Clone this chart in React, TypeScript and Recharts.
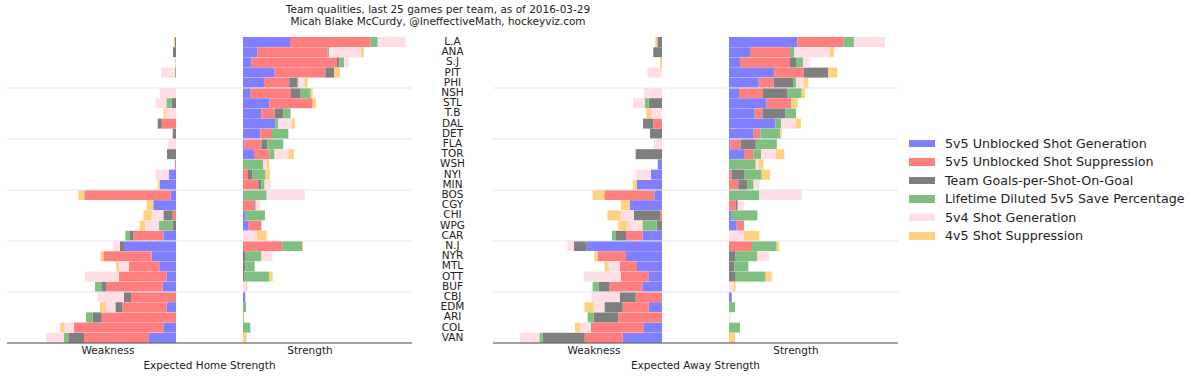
import React from 'react';
import { BarChart, Bar, XAxis, YAxis, ReferenceLine, Legend, Label } from 'recharts';

const FONT = '"DejaVu Sans", sans-serif';

const teams = ['L.A', 'ANA', 'S.J', 'PIT', 'PHI', 'NSH', 'STL', 'T.B', 'DAL', 'DET', 'FLA', 'TOR', 'WSH', 'NYI', 'MIN', 'BOS', 'CGY', 'CHI', 'WPG', 'CAR', 'N.J', 'NYR', 'MTL', 'OTT', 'BUF', 'CBJ', 'EDM', 'ARI', 'COL', 'VAN'];

const legendLabels = [
  '5v5 Unblocked Shot Generation',
  '5v5 Unblocked Shot Suppression',
  'Team Goals-per-Shot-On-Goal',
  'Lifetime Diluted 5v5 Save Percentage',
  '5v4 Shot Generation',
  '4v5 Shot Suppression',
];
const componentKeys = ['gen', 'sup', 'gps', 'sv', 'pp', 'pk'];
const colors = ['#7f7fff', '#ff7f7f', '#7f7f7f', '#7fbf7f', '#ffdfe5', '#ffd27f'];

const gridTeams = ['NSH', 'FLA', 'BOS', 'N.J', 'CBJ'];
const tickValues = [-135, 67];
const tickLabels = ['Weakness', 'Strength'];

// Expected Home Strength — strength side
const homeStrGen = [47, 14.3, 8.7, 31.7, 21, 7.7, 26.3, 18.3, 32.3, 17.3, 1.5, 11, 0, 0, 0, 0, 0, 2.7, 5.7, 0, 0, 0, 0, 0, 0, 2.3, 0, 0, 0, 0];
const homeStrSup = [80.7, 70.3, 85.3, 50.7, 25.3, 40.3, 43.3, 13.3, 0, 11.7, 17, 15.3, 0, 5, 15.3, 0, 11.3, 0, 12.7, 0, 39.3, 0, 0, 0, 0, 0, 0, 0, 0, 0];
const homeStrGps = [0, 0, 2.3, 9, 8, 9.7, 0, 8.7, 0, 0, 5.7, 0, 0, 4.3, 3, 0, 1.3, 0, 0, 0, 0, 2.7, 2.3, 1.7, 0, 0, 0, 0, 0, 0];
const homeStrSv = [7, 1.7, 4.7, 0, 1.3, 10, 0, 7.3, 3, 16.3, 16, 5.3, 20.3, 13.3, 3.3, 23.7, 0, 19.3, 0, 0, 19.7, 15.7, 9.3, 24.3, 0, 0, 3, 0.8, 7.3, 0];
const homeStrPp = [28, 31.7, 4.7, 0, 5.7, 0, 0, 0, 13.3, 0, 0, 14, 3.3, 0, 6, 38.3, 4.3, 0, 0, 13.7, 0, 11, 0, 0, 3, 0, 0, 0, 0, 0];
const homeStrPk = [0, 3, 0, 5.7, 3.3, 2, 3.3, 0, 3.3, 0, 0, 5.3, 2.7, 4.3, 0, 0, 0, 0, 0, 10, 1, 0, 0, 3.7, 1.3, 0, 0, 0, 0, 3.7];

// Expected Home Strength — weakness side
const homeWeakGen = [0, 0, 0, 0, 0, 0, 0, 0, 0, 0, 0, 0, 0, 7, 16, 5.3, 22.7, 0, 0, 12.7, 52, 24.3, 16.7, 9.3, 13.3, 0, 9.3, 0, 12.7, 27];
const homeWeakSup = [0, 0, 0, 0, 0, 0, 0, 0, 14.3, 0, 0, 0, 1, 0, 0, 85.3, 0, 3.3, 0, 30, 0, 48.3, 30.3, 47.7, 56.7, 45, 44.3, 74.3, 89.3, 65];
const homeWeakGps = [1.3, 3, 0, 0, 0, 0, 4.3, 0, 4, 3.3, 0, 9, 0, 0, 0, 1, 0, 9.3, 3.3, 3.3, 4, 0, 0, 0, 4, 7, 7, 9, 0, 15.7];
const homeWeakSv = [0, 0, 0, 1.3, 0, 0, 5.3, 0, 0, 0, 0, 0, 0, 0, 0, 0, 0, 0, 13.7, 4.7, 0, 0, 0, 0, 7, 0, 0, 6.7, 0, 4.3];
const homeWeakPp = [0, 0, 0, 13.7, 0, 16.3, 11, 10.3, 0, 0, 7.7, 0, 0, 13.7, 0, 0, 0, 11.7, 13.7, 0, 6.7, 0, 10, 34, 0, 26.7, 9.7, 0, 10, 18];
const homeWeakPk = [1, 0, 1, 0, 0, 0, 0, 2.3, 0, 0, 0, 0, 0, 0, 2.3, 6, 6.7, 8.3, 5.7, 0, 0, 3, 3, 0, 0, 0, 5.7, 0, 3.7, 0];

// Expected Away Strength — strength side
const awayStrGen = [68.3, 21, 11, 45.3, 29.7, 10, 37.7, 25.7, 46.3, 24.7, 1.5, 15, 0, 0, 0, 0, 0, 2.7, 7.7, 0, 0, 0, 0, 0, 0, 2.7, 0, 0, 0, 0];
const awayStrSup = [46.3, 40, 50, 29.3, 15, 24, 24.7, 7.7, 0, 6.7, 10, 9.7, 0, 2.7, 9.3, 0, 6.7, 0, 7.3, 0, 23, 0, 0, 0, 0, 0, 0, 0, 0, 0];
const awayStrGps = [0, 0, 6, 24.7, 19.3, 24.7, 0, 22.7, 0, 0, 15.3, 0, 0, 12.3, 9.3, 0, 2, 0, 0, 0, 0, 6.7, 5.3, 6, 0, 0, 0, 0, 0, 0];
const awayStrSv = [10.3, 4.3, 7.3, 0, 3.3, 14, 0, 11, 5.7, 20, 21, 7.3, 26.7, 17.7, 6, 30.3, 0, 25.7, 0, 0, 24.7, 21.7, 14, 30.7, 0, 0, 6, 0, 11, 0];
const awayStrPp = [31, 35.3, 6, 0, 7.7, 0, 0, 0, 14.7, 0, 0, 15, 3, 0, 6, 42.3, 6, 0, 0, 14.7, 0, 11.7, 0, 0, 4.3, 0, 0, 1.7, 0, 0];
const awayStrPk = [0, 4.3, 0, 9, 4.3, 3.3, 6.3, 0, 5.3, 1.3, 0, 8.3, 4.7, 8.3, 0, 0, 0, 0, 0, 15.7, 2.7, 0, 0, 6, 2.3, 0, 0, 0, 0, 6];

// Expected Away Strength — weakness side
const awayWeakGen = [0, 0, 0, 0, 0, 0, 0, 0, 0, 0, 0, 0, 4.3, 11, 25, 7.7, 32, 0, 0, 19.3, 75.3, 36, 25, 13.7, 19.7, 0, 13.3, 0, 18, 39.3];
const awayWeakSup = [0, 0, 0, 0, 0, 0, 0, 0, 8.7, 0, 0, 0, 0, 0, 0, 50, 0, 2, 0, 16.7, 0, 28.3, 17.3, 27.7, 32.7, 26.3, 26, 43.7, 52.3, 38];
const awayWeakGps = [4.7, 8.7, 0, 0, 0, 0, 13.3, 0, 10.3, 12, 0, 26.3, 0, 0, 0, 0, 0, 26, 5.3, 10.7, 12.7, 0, 0, 0, 10.7, 16, 18.3, 24.7, 0.7, 42];
const awayWeakSv = [0, 0, 0, 0, 0, 0, 4, 0, 0, 0, 0, 0, 0, 0, 0, 0, 0, 0, 14.3, 3.3, 0, 0, 0, 0, 6.3, 0, 0, 6, 0, 3.3];
const awayWeakPp = [0, 0, 0, 14.7, 0, 18, 11.7, 10.7, 0, 0, 8.3, 0, 0, 14.7, 0, 0, 0, 13.3, 14.7, 0, 6.7, 0, 11, 36.7, 0, 28.3, 10.7, 0, 11, 19.3];
const awayWeakPk = [2, 0, 2, 0, 0, 0, 0, 5, 0, 0, 0, 0, 0, 0, 4.3, 11.7, 9, 13.3, 9.3, 0, 0, 3.3, 4.3, 0, 0, 0, 9.3, 0, 5, 0];

const homeStr = [homeStrGen, homeStrSup, homeStrGps, homeStrSv, homeStrPp, homeStrPk];
const homeWeak = [homeWeakGen, homeWeakSup, homeWeakGps, homeWeakSv, homeWeakPp, homeWeakPk];
const awayStr = [awayStrGen, awayStrSup, awayStrGps, awayStrSv, awayStrPp, awayStrPk];
const awayWeak = [awayWeakGen, awayWeakSup, awayWeakGps, awayWeakSv, awayWeakPp, awayWeakPk];

function buildRows(str: number[][], weak: number[][]) {
  return teams.map((team, i) => {
    const row: Record<string, any> = { team };
    componentKeys.forEach((k, j) => {
      row['s_' + k] = str[j][i];
      row['w_' + k] = -weak[j][i];
    });
    return row;
  });
}

const homeRows = buildRows(homeStr, homeWeak);
const awayRows = buildRows(awayStr, awayWeak);

const TeamTick = (props: any) => (
  <text x={40.5} y={props.y} dy="0.28em" textAnchor="middle" fontSize={10.5} fill="#222" fontFamily={FONT}>
    {props.payload.value}
  </text>
);

const renderLegend = () => (
  <div style={{ fontFamily: FONT, fontSize: 12.7, color: '#222' }}>
    {legendLabels.map((l, i) => (
      <div key={l} style={{ display: 'flex', alignItems: 'center', height: 18.5, whiteSpace: 'nowrap' }}>
        <span style={{ display: 'inline-block', width: 26, height: 7.5, background: colors[i], marginRight: 10 }} />
        <span>{l}</span>
      </div>
    ))}
  </div>
);

function Panel(props: { data: any[]; title: string; width: number; margin: any; showTeams: boolean; legend: boolean }) {
  const { data, title, width, margin, showTeams, legend } = props;
  return (
    <BarChart layout="vertical" width={width} height={377} data={data} margin={margin} barCategoryGap={0} barGap={0}>
      <XAxis xAxisId="w" type="number" orientation="top" domain={[-169, 236]} allowDataOverflow height={0} tick={false} tickLine={false} axisLine={{ stroke: '#333' }} />
      <XAxis
        xAxisId="s"
        type="number"
        orientation="bottom"
        domain={[-236, 169]}
        allowDataOverflow
        height={34}
        ticks={tickValues}
        interval={0}
        tickFormatter={(v: number) => tickLabels[tickValues.indexOf(v)]}
        tickLine={false}
        tickSize={0}
        tickMargin={4}
        axisLine={{ stroke: '#444' }}
        tick={{ fontSize: 10.5, fill: '#222', fontFamily: FONT }}
      >
        <Label value={title} position="insideBottom" offset={8} fontSize={10.5} fill="#222" fontFamily={FONT} />
      </XAxis>
      {showTeams ? (
        <YAxis yAxisId="w" type="category" dataKey="team" width={81} interval={0} axisLine={false} tickLine={false} tick={<TeamTick />} />
      ) : (
        <YAxis yAxisId="w" type="category" dataKey="team" hide />
      )}
      <YAxis yAxisId="s" type="category" dataKey="team" hide />
      {gridTeams.map((t) => (
        <ReferenceLine key={t} xAxisId="w" yAxisId="w" y={t} position="start" stroke="#e3e3f3" strokeWidth={1} />
      ))}
      {componentKeys.map((k, j) => (
        <Bar key={'w' + k} xAxisId="w" yAxisId="w" dataKey={'w_' + k} stackId="w" fill={colors[j]} isAnimationActive={false} />
      ))}
      {componentKeys.map((k, j) => (
        <Bar key={'s' + k} xAxisId="s" yAxisId="s" dataKey={'s_' + k} stackId="s" fill={colors[j]} isAnimationActive={false} />
      ))}
      {legend && (
        <Legend
          layout="vertical"
          align="center"
          verticalAlign="middle"
          content={renderLegend}
          wrapperStyle={{ left: 497, top: 134, width: 290 }}
        />
      )}
    </BarChart>
  );
}

export default function App() {
  return (
    <div style={{ position: 'absolute', left: 0, top: 0, width: 1200, height: 377, background: '#fff', overflow: 'hidden' }}>
      <div
        style={{
          position: 'absolute',
          left: 0,
          top: 4.4,
          width: 876,
          textAlign: 'center',
          fontFamily: FONT,
          fontSize: 10.5,
          lineHeight: '11.3px',
          color: '#222',
        }}
      >
        <div>Team qualities, last 25 games per team, as of 2016-03-29</div>
        <div>Micah Blake McCurdy, @IneffectiveMath, hockeyviz.com</div>
      </div>
      <div style={{ position: 'absolute', left: 0, top: 0 }}>
        <Panel data={homeRows} title="Expected Home Strength" width={420} margin={{ top: 37, right: 8, bottom: 0, left: 7 }} showTeams={false} legend={false} />
      </div>
      <div style={{ position: 'absolute', left: 412, top: 0 }}>
        <Panel data={awayRows} title="Expected Away Strength" width={788} margin={{ top: 37, right: 302, bottom: 0, left: 0 }} showTeams={true} legend={true} />
      </div>
    </div>
  );
}
